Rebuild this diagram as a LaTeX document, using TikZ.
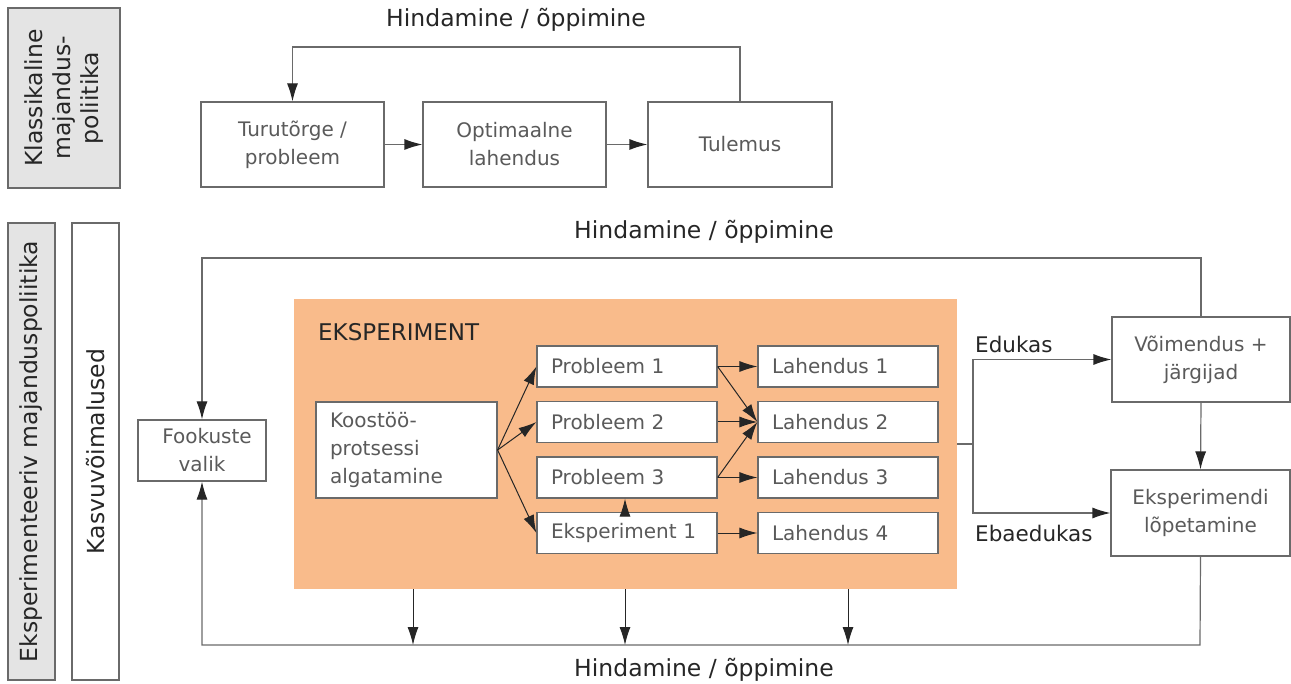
\documentclass[tikz,border=0pt]{standalone}
\usepackage{fontspec}
\setmainfont{DejaVu Sans}
\usepackage{xcolor}
\usetikzlibrary{arrows.meta,calc,positioning}
\definecolor{exporange}{HTML}{F9BB8B}
\definecolor{boxtext}{HTML}{5A5A5A}
\definecolor{linegray}{HTML}{6A6A6A}
\definecolor{sidegray}{HTML}{E4E4E4}
\newcommand{\boxfont}{\fontsize{20}{28}\selectfont}
\newcommand{\lblfont}{\fontsize{21.5}{28}\selectfont}
\newcommand{\bigfont}{\fontsize{23.5}{28}\selectfont}

\begin{document}
\begin{tikzpicture}[
    x=1pt, y=-1pt,
    nosep/.style={inner sep=0},
    box/.style={draw=linegray, line width=1.2pt, fill=white, text=boxtext,
        font=\boxfont, align=center, inner sep=0},
    leftbox/.style={box, align=left, text width=#1, inner xsep=14pt},
    sidebox/.style={draw=linegray, line width=1.2pt, rotate=90, font=\bigfont,
        text=black!85, align=center, inner sep=0},
    lbl/.style={nosep, font=\lblfont, text=black!85},
    line/.style={draw=linegray, line width=1.2pt},
    arr/.style={line, -{Latex[length=18pt,width=11pt,color=black!85]}},
    inarr/.style={arr, draw=black!85, line width=1pt}]
\useasboundingbox (0,0) rectangle (1291,684);

% klassikaline
\node (klass) [sidebox, fill=sidegray, minimum width=180, minimum height=112] at (64,98)
    {Klassikaline\\majandus-\\poliitika};
\node (hind1) [lbl, font=\bigfont] at (516,20) {Hindamine / õppimine};
\node (turu) [box, minimum width=183, minimum height=85] at (292.5,144.5) {Turutõrge /\\probleem};
\node (opt) [box, minimum width=183, minimum height=85] at (514.5,144.5) {Optimaalne\\lahendus};
\node (tul) [box, minimum width=184, minimum height=85] at (740,144.5) {Tulemus};
\coordinate (loopA) at (740,47);

\draw[arr] (turu.east) -- (opt.west);
\draw[arr] (opt.east) -- (tul.west);
\draw[arr] (tul.north) -- (loopA) -| (turu.north);

% eksperimenteeriv
\node (ekspgray) [sidebox, fill=sidegray, minimum width=457, minimum height=47] at (31.5,451.5)
    {Eksperimenteeriv majanduspoliitika};
\node (kasv) [sidebox, fill=white, minimum width=457, minimum height=47] at (95.5,451.5)
    {Kasvuvõimalused};
\node (hind2) [lbl, font=\bigfont] at (704,232) {Hindamine / õppimine};
\node (hind3) [lbl, font=\bigfont] at (704,670) {Hindamine / õppimine};

\node (orange) [fill=exporange, minimum width=663, minimum height=290, nosep] at (625.5,444) {};
\node (ekslbl) [lbl, anchor=west, font=\fontsize{23}{28}\selectfont] at (318,332) {EKSPERIMENT};

\node (fook) [box, minimum width=128, minimum height=61] at (202,450.5) {\hspace*{10pt}Fookuste\\valik};
\node (koos) [leftbox=153, minimum height=96] at (406.5,450) {Koostöö-\\protsessi\\algatamine};

\node (p1) [leftbox=152, minimum height=41] at (627,366.5) {Probleem 1};
\node (p2) [leftbox=152, minimum height=41] at (627,422) {Probleem 2};
\node (p3) [leftbox=152, minimum height=41] at (627,477.5) {Probleem 3};
\node (e1) [leftbox=152, minimum height=41] at (627,533) {Eksperiment 1};
\node (l1) [leftbox=152, minimum height=41] at (848,366.5) {Lahendus 1};
\node (l2) [leftbox=152, minimum height=41] at (848,422) {Lahendus 2};
\node (l3) [leftbox=152, minimum height=41] at (848,477.5) {Lahendus 3};
\node (l4) [leftbox=152, minimum height=41] at (848,533) {Lahendus 4};

\node (voim) [box, minimum width=178, minimum height=85] at (1201,359.5) {Võimendus +\\järgijad};
\node (ekspl) [box, minimum width=179, minimum height=86] at (1200.5,513) {Eksperimendi\\lõpetamine};

\node (edu) [lbl, anchor=west] at (975,344) {Edukas};
\node (ebaedu) [lbl, anchor=west] at (975,533) {Ebaedukas};

\coordinate (loopB) at (1201,258);
\coordinate (loopC) at (1200,645);
\coordinate (split) at (973,444);

% inside experiment
\foreach \to in {p1,p2,e1}
    \draw[inarr] (koos.east) -- (\to.west);
\draw[inarr] (e1.north -| 625,0) -- (p3.south -| 625,0);
\draw[inarr] (p1.east) -- (l1.west);
\draw[inarr] (p1.east) -- (l2.west);
\draw[inarr] (p2.east) -- (l2.west);
\draw[inarr] (p3.east) -- (l2.west);
\draw[inarr] (p3.east) -- (l3.west);
\draw[inarr] (e1.east) -- (l4.west);

% outcome
\draw[line] (orange.east) -- (split);
\draw[arr] (split) |- (voim.west);
\draw[arr] (split) |- (ekspl.west);
\draw[arr] (voim.south) -- (ekspl.north);

% learning loops
\draw[arr] (voim.north) -- (loopB) -| (fook.north);
\draw[arr] (ekspl.south) -- (loopC) -| (fook.south);
\foreach \xx in {413,625,848}
    \draw[inarr] (orange.south -| \xx,0) -- (loopC -| \xx,0);

\end{tikzpicture}
\end{document}
